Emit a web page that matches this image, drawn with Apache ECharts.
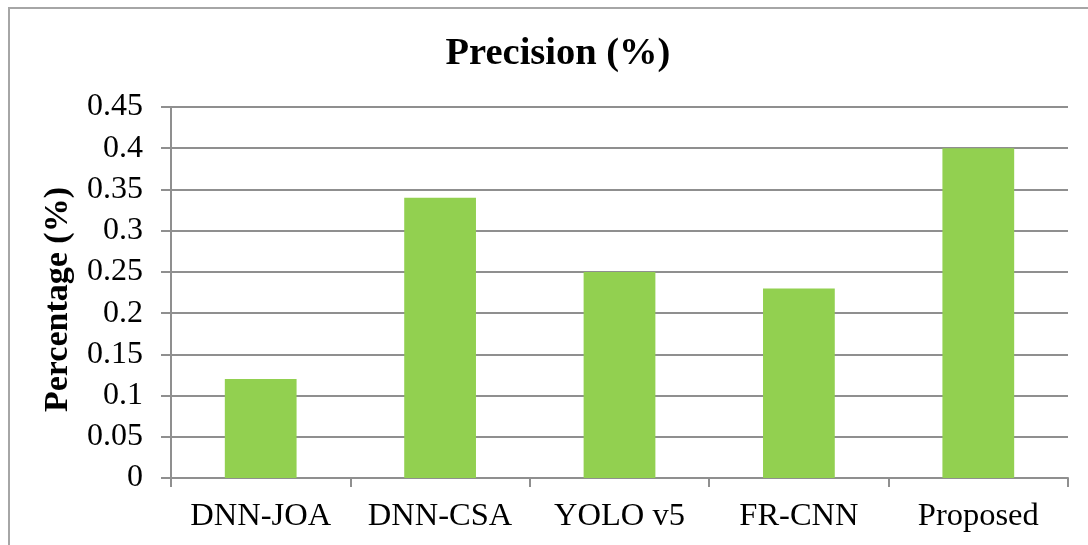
<!DOCTYPE html>
<html>
<head>
<meta charset="utf-8">
<script src="https://cdn.jsdelivr.net/npm/echarts@6/dist/echarts.min.js"></script>
<style>
  html, body { margin: 0; padding: 0; background: #fff; }
  #frame { position: absolute; left: 8px; top: 7px; width: 1080px; height: 538px;
           border-left: 2px solid #a6a6a6; border-top: 2px solid #a6a6a6; box-sizing: border-box; }
  #precisionBar { position: absolute; left: 0; top: 0; width: 1088px; height: 545px; }
</style>
</head>
<body>
<div id="frame"></div>
<div id="precisionBar"></div>
<script>
// 数据
var categories = ['DNN-JOA', 'DNN-CSA', 'YOLO v5', 'FR-CNN', 'Proposed'];
var precision = [0.12, 0.34, 0.25, 0.23, 0.40];
var yTicks = [0, 0.05, 0.1, 0.15, 0.2, 0.25, 0.3, 0.35, 0.4, 0.45];

var serif = '"Liberation Serif", "Times New Roman", serif';
var gray = '#8f8f8f';

var dom = document.getElementById('precisionBar');
var myChart = echarts.init(dom);
var option = {
    animation: false,
    textStyle: { fontFamily: serif },
    title: {
        text: 'Precision (%)',
        left: 553,
        textAlign: 'center',
        top: 30,
        textStyle: { fontFamily: serif, fontSize: 38.5, fontWeight: 'bold', color: '#000' }
    },
    grid: { left: 171, right: 20, top: 107, bottom: 67 },
    xAxis: {
        type: 'category',
        data: categories,
        axisLine: { lineStyle: { color: gray, width: 2 } },
        axisTick: { show: true, interval: 0, length: 9, lineStyle: { color: gray, width: 2 } },
        axisLabel: { interval: 0, color: '#000', fontSize: 32.5, fontFamily: serif, margin: 22 }
    },
    yAxis: {
        type: 'value',
        min: yTicks[0],
        max: yTicks[yTicks.length - 1],
        interval: 0.05,
        name: 'Percentage (%)',
        nameLocation: 'middle',
        nameGap: 96,
        nameTextStyle: { fontFamily: serif, fontSize: 34, fontWeight: 'bold', color: '#000', padding: [0, 14, 0, 0] },
        axisLine: { show: true, lineStyle: { color: gray, width: 2 } },
        axisTick: { show: true, length: 10, lineStyle: { color: gray, width: 2 } },
        axisLabel: {
            color: '#000', fontSize: 32, fontFamily: serif, margin: 28,
            formatter: function (v) { return String(Math.round(v * 100) / 100); }
        },
        splitLine: { show: true, lineStyle: { color: gray, width: 2 } }
    },
    series: [{
        type: 'bar',
        data: precision,
        barCategoryGap: '60%',
        itemStyle: { color: '#92D050' }
    }]
};
myChart.setOption(option, true);
</script>
</body>
</html>
